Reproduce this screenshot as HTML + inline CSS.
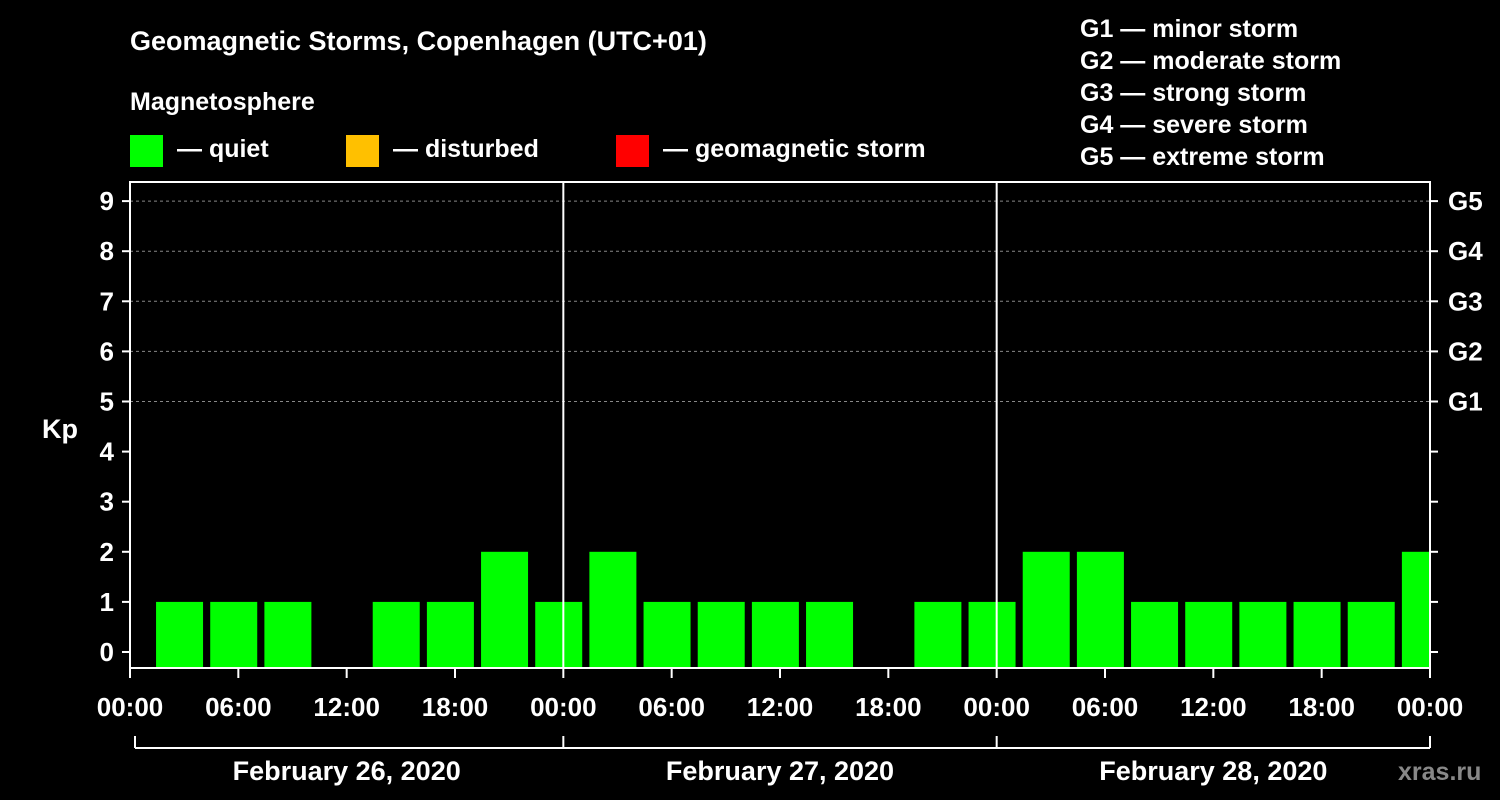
<!DOCTYPE html>
<html><head><meta charset="utf-8"><style>
body{margin:0;background:#000;}
svg{display:block;font-family:"Liberation Sans",Arial,sans-serif;font-weight:bold;}
</style></head><body>
<svg id="chart" width="1500" height="800" viewBox="0 0 1500 800">
<rect width="1500" height="800" fill="#000"/>
<text x="130" y="50" fill="#fff" font-size="27">Geomagnetic Storms, Copenhagen (UTC+01)</text>
<text x="130" y="110" fill="#fff" font-size="25">Magnetosphere</text>
<g><rect x="130" y="135" width="33" height="32" fill="#00ff00"/><text x="177" y="157" fill="#fff" font-size="25">— quiet</text></g>
<g><rect x="346" y="135" width="33" height="32" fill="#ffc000"/><text x="393" y="157" fill="#fff" font-size="25">— disturbed</text></g>
<g><rect x="616" y="135" width="33" height="32" fill="#ff0000"/><text x="663" y="157" fill="#fff" font-size="25">— geomagnetic storm</text></g>
<g fill="#fff" font-size="25">
<text x="1080" y="37">G1 — minor storm</text>
<text x="1080" y="69">G2 — moderate storm</text>
<text x="1080" y="101">G3 — strong storm</text>
<text x="1080" y="133">G4 — severe storm</text>
<text x="1080" y="165">G5 — extreme storm</text>
</g>
<text x="42" y="438" fill="#fff" font-size="27">Kp</text>
<g id="plot"></g>
<text x="1398" y="780" fill="#888" font-size="25">xras.ru</text>
</svg>
<script>
const kpValues=[1,1,1,0,1,1,2,1, 2,1,1,1,1,0,1,1, 2,2,1,1,1,1,1,2];
const yTicks=[0,1,2,3,4,5,6,7,8,9];
const gLabels=["G1","G2","G3","G4","G5"];
const hourLabels=["00:00","06:00","12:00","18:00","00:00","06:00","12:00","18:00","00:00","06:00","12:00","18:00","00:00"];
const dateLabels=["February 26, 2020","February 27, 2020","February 28, 2020"];
const utcOffset=1;
const L=130,R=1430,T=182,B=668;
const hourW=(R-L)/72;
const y=v=>652-v*50.1;
const x=h=>L+h*hourW;
const NS="http://www.w3.org/2000/svg";
const plot=document.getElementById('plot');
function mk(tag,attrs,txt){const e=document.createElementNS(NS,tag);for(const k in attrs)e.setAttribute(k,attrs[k]);if(txt!==undefined)e.textContent=txt;plot.appendChild(e);return e;}
// grid
gLabels.forEach((g,i)=>{const v=5+i;
 const l=mk('line',{x1:L,x2:R,y1:y(v),y2:y(v),stroke:'#888','stroke-dasharray':'3,3','stroke-width':1});
 
 
 const t=mk('text',{x:1448,y:y(v)+9,fill:'#fff','font-size':26},g);
 
 
});
// bars
const clip=mk('clipPath',{id:'pc'});clip.appendChild(document.createElementNS(NS,'rect'));
const cr=clip.firstChild;cr.setAttribute('x',L);cr.setAttribute('y',T);cr.setAttribute('width',R-L);cr.setAttribute('height',B-T);
kpValues.forEach((v,i)=>{if(v<=0)return;
 const c=v>=5?'#ff0000':(v>=4?'#ffc000':'#00ff00');
 const bx=x(i*3+utcOffset)+8;
 const r=mk('rect',{x:bx,y:y(v),width:Math.min(47,R-bx),height:B-y(v),fill:c,'clip-path':'url(#pc)'});
 
 
});
// day lines
[1,2].forEach(d=>{const l=mk('line',{x1:x(d*24),x2:x(d*24),y1:T,y2:B,stroke:'#fff','stroke-width':2});
 
 });
// frame
const f=mk('rect',{x:L,y:T,width:R-L,height:B-T,fill:'none',stroke:'#fff','stroke-width':2});


// y ticks
yTicks.forEach(v=>{
 mk('line',{x1:L-8,x2:L,y1:y(v),y2:y(v),stroke:'#fff','stroke-width':2});
 mk('line',{x1:R,x2:R+8,y1:y(v),y2:y(v),stroke:'#fff','stroke-width':2});
 const t=mk('text',{x:114,y:y(v)+9,fill:'#fff','font-size':26,'text-anchor':'end'},String(v));
 
 
});
// x ticks
hourLabels.forEach((h,i)=>{const xx=x(i*6);
 mk('line',{x1:xx,x2:xx,y1:B,y2:B+10,stroke:'#fff','stroke-width':2});
 const t=mk('text',{x:xx,y:716,fill:'#fff','font-size':26,'text-anchor':'middle'},h);
 
 
});
// date bracket
mk('line',{x1:135,x2:R,y1:748,y2:748,stroke:'#fff','stroke-width':2});
[135,x(24),x(48),R].forEach(xx=>mk('line',{x1:xx,x2:xx,y1:736,y2:748,stroke:'#fff','stroke-width':2}));
dateLabels.forEach((d,i)=>{const t=mk('text',{x:x(i*24+12),y:780,fill:'#fff','font-size':27,'text-anchor':'middle'},d);
 
 });
</script>
</body></html>
